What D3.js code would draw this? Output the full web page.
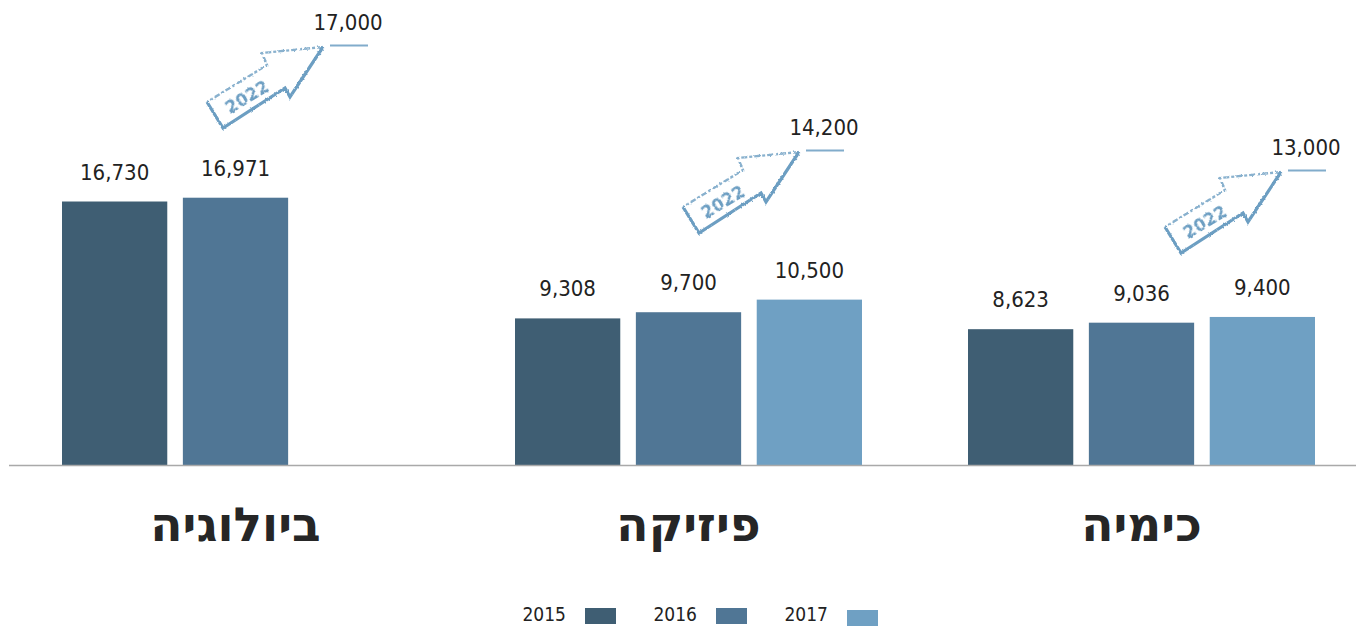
<!DOCTYPE html>
<html>
<head>
<meta charset="utf-8">
<script src="https://cdn.jsdelivr.net/npm/d3@7"></script>
<style>
  html, body { margin: 0; padding: 0; background: #fff; }
  svg { display: block; }
</style>
</head>
<body>
<svg id="chart" width="1357" height="626"></svg>
<script>
// ---- data ----
const categories = ["ביולוגיה", "פיזיקה", "כימיה"];
const years = ["2015", "2016", "2017"];
const values2015 = [16730, 9308, 8623];
const values2016 = [16971, 9700, 9036];
const values2017 = [null, 10500, 9400];
const targetYear = "2022";
const targets2022 = [17000, 14200, 13000];

// ---- layout ----
const W = 1357, H = 626;
const baseY = 465;
const colors = { "2015": "#3f5e73", "2016": "#507695", "2017": "#6fa0c3" };
const arrowColor = "#6c9ec2";
const textColor = "#222";
const numFont = "'DejaVu Sans Condensed', 'Liberation Sans Narrow', sans-serif";
const hebFont = "'DejaVu Sans', 'Liberation Sans', sans-serif";
// annotation anchors (label centre x offset from group start, label baseline y)
const annoDx = [286, 309, 338];
const annoY = [30, 135, 155];

const svg = d3.select("#chart");

const defs = svg.append("defs");
const filt = defs.append("filter").attr("id", "rough")
  .attr("x", "-10%").attr("y", "-10%").attr("width", "120%").attr("height", "120%");
filt.append("feTurbulence").attr("type", "fractalNoise").attr("baseFrequency", 0.35)
  .attr("numOctaves", 2).attr("seed", 3).attr("result", "noise");
filt.append("feDisplacementMap").attr("in", "SourceGraphic").attr("in2", "noise")
  .attr("scale", 2.5).attr("xChannelSelector", "R").attr("yChannelSelector", "G");

const x0 = d3.scaleBand().domain(categories).range([62, 1315])
  .paddingInner(0.234).paddingOuter(0);
const x1 = d3.scaleBand().domain(years).range([0, x0.bandwidth()])
  .paddingInner(0.129).paddingOuter(0);
const y = d3.scaleLinear().domain([0, 20000]).range([baseY, 150]);

const seriesByYear = { "2015": values2015, "2016": values2016, "2017": values2017 };
const rows = [];
categories.forEach((c, i) => {
  years.forEach(yr => {
    const v = seriesByYear[yr][i];
    if (v != null) rows.push({ cat: c, year: yr, value: v });
  });
});

const fmt = d3.format(",");

// bars
svg.append("g").selectAll("rect").data(rows).join("rect")
  .attr("x", d => x0(d.cat) + x1(d.year))
  .attr("y", d => y(d.value))
  .attr("width", x1.bandwidth())
  .attr("height", d => y(0) - y(d.value))
  .attr("fill", d => colors[d.year]);

// value labels
svg.append("g").selectAll("text").data(rows).join("text")
  .attr("x", d => x0(d.cat) + x1(d.year) + x1.bandwidth() / 2)
  .attr("y", d => y(d.value) - 22)
  .attr("text-anchor", "middle")
  .attr("font-family", numFont)
  .attr("font-size", 22)
  .attr("fill", textColor)
  .text(d => fmt(d.value));

// baseline axis
const xAxis = d3.axisBottom(x0).tickSize(0).tickPadding(0).tickFormat("");
const axG = svg.append("g").attr("transform", `translate(0,${baseY})`).call(xAxis);
axG.select(".domain").attr("d", "M9,0.5H1356").attr("stroke", "#a9a9a9").attr("stroke-width", 1.6);

// category labels
svg.append("g").selectAll("text").data(categories).join("text")
  .attr("x", d => x0(d) + x0.bandwidth() / 2)
  .attr("y", 541)
  .attr("text-anchor", "middle")
  .attr("font-family", hebFont)
  .attr("font-weight", "bold")
  .attr("font-size", 47)
  .attr("fill", "#262626")
  .attr("direction", "rtl")
  .text(d => d);

// 2022 arrows + targets
const annG = svg.append("g").selectAll("g").data(categories).join("g")
  .attr("transform", (d, i) => `translate(${x0(d) + annoDx[i]},${annoY[i]})`);

annG.append("text")
  .attr("text-anchor", "middle")
  .attr("font-family", numFont)
  .attr("font-size", 22)
  .attr("fill", textColor)
  .text((d, i) => fmt(targets2022[i]));

const arrowSolid = "M-141,72 L-125,98 L-63,58 L-58,67 L-25,17";
const arrowSketch = "M-25,17 L-86,23 L-81,35 L-141,72";
annG.append("path").attr("d", arrowSolid)
  .attr("fill", "none").attr("stroke", arrowColor).attr("stroke-width", 3.2)
  .attr("stroke-linejoin", "miter").attr("filter", "url(#rough)");
annG.append("path").attr("d", arrowSketch)
  .attr("fill", "none").attr("stroke", arrowColor).attr("stroke-width", 2.4)
  .attr("stroke-dasharray", "6 2 3 2").attr("opacity", 0.8).attr("filter", "url(#rough)");
annG.append("path").attr("d", "M-18,15.5 L20,15.5")
  .attr("stroke", arrowColor).attr("stroke-width", 2).attr("opacity", 0.85);
annG.append("text")
  .attr("transform", "translate(-101,67) rotate(-31)")
  .attr("text-anchor", "middle")
  .attr("dominant-baseline", "central")
  .attr("font-family", "'DejaVu Sans', sans-serif")
  .attr("font-weight", "bold")
  .attr("font-size", 17)
  .attr("fill", arrowColor)
  .attr("filter", "url(#rough)")
  .text(targetYear);

// legend
const leg = svg.append("g").selectAll("g").data(years).join("g")
  .attr("transform", (d, i) => `translate(${566 + i * 131},0)`);
leg.append("text")
  .attr("x", 0).attr("y", 621)
  .attr("text-anchor", "end")
  .attr("font-family", numFont)
  .attr("font-size", 19)
  .attr("fill", textColor)
  .text(d => d);
leg.append("rect")
  .attr("x", 19).attr("y", (d, i) => i === 2 ? 610 : 608)
  .attr("width", 31).attr("height", 16)
  .attr("fill", d => colors[d]);
</script>
</body>
</html>
